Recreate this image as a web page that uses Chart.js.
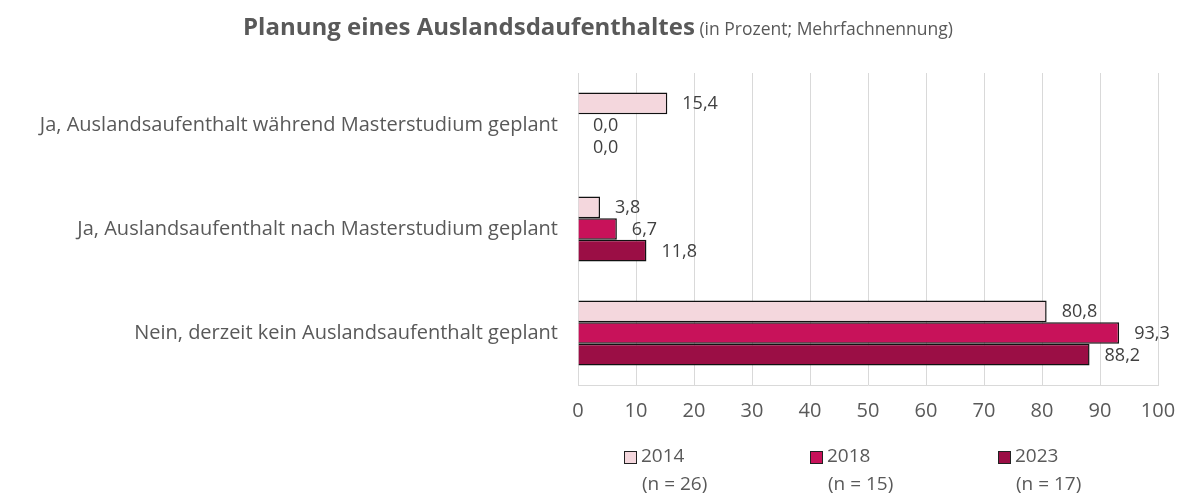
<!DOCTYPE html>
<html>
<head>
<meta charset="utf-8">
<script src="https://cdn.jsdelivr.net/npm/chart.js@4"></script>
<style>
  html, body { margin: 0; padding: 0; background: #fff; }
  #wrap { width: 1181px; height: 498px; position: relative; }
</style>
</head>
<body>
<div id="wrap"><canvas id="myChart" width="1181" height="498"></canvas></div>
<script>
// data
var categories = [
    'Ja, Auslandsaufenthalt während Masterstudium geplant',
    'Ja, Auslandsaufenthalt nach Masterstudium geplant',
    'Nein, derzeit kein Auslandsaufenthalt geplant'
];
var years = ['2014', '2018', '2023'];
var sampleSizes = ['(n = 26)', '(n = 15)', '(n = 17)'];
var values2014 = [15.4, 3.8, 80.8];
var values2018 = [0.0, 6.7, 93.3];
var values2023 = [0.0, 11.8, 88.2];
var xTicks = [0, 10, 20, 30, 40, 50, 60, 70, 80, 90, 100];

var colors = ['#F4D7DD', '#C8125A', '#9B0E45'];
var FONT = '"Open Sans", sans-serif';

// title + bar values + two-line legend drawn by hand
var extras = {
    id: 'extras',
    afterDatasetsDraw: function (chart) {
        var ctx = chart.ctx;
        ctx.save();
        // value labels
        ctx.fillStyle = '#404040';
        ctx.font = '18px ' + FONT;
        ctx.textAlign = 'left';
        ctx.textBaseline = 'middle';
        chart.data.datasets.forEach(function (ds, i) {
            var meta = chart.getDatasetMeta(i);
            meta.data.forEach(function (bar, j) {
                var txt = ds.data[j].toFixed(1).replace('.', ',');
                ctx.fillText(txt, bar.x + 15, bar.y + 1);
            });
        });

        // title
        var t1 = 'Planung eines Auslandsdaufenthaltes';
        var t2 = ' (in Prozent; Mehrfachnennung)';
        ctx.font = 'bold 24px ' + FONT;
        var w1 = ctx.measureText(t1).width;
        ctx.font = '17.5px ' + FONT;
        var w2 = ctx.measureText(t2).width;
        var sx = 598 - (w1 + w2) / 2;
        ctx.textBaseline = 'alphabetic';
        ctx.fillStyle = '#595959';
        ctx.font = 'bold 24px ' + FONT;
        ctx.fillText(t1, sx, 35);
        ctx.font = '17.5px ' + FONT;
        ctx.fillText(t2, sx + w1, 35);

        // legend
        var lx = [624, 810, 998];
        ctx.font = '19px ' + FONT;
        ctx.textBaseline = 'middle';
        for (var k = 0; k < years.length; k++) {
            ctx.fillStyle = colors[k];
            ctx.fillRect(lx[k], 451, 13, 13);
            ctx.strokeStyle = '#222';
            ctx.lineWidth = 1;
            ctx.strokeRect(lx[k] + 0.5, 451.5, 12, 12);
            ctx.fillStyle = '#595959';
            ctx.fillText(years[k], lx[k] + 17, 457);
            ctx.fillText(sampleSizes[k], lx[k] + 18, 485);
        }
        ctx.restore();
    }
};

var ctx = document.getElementById('myChart').getContext('2d');
var myChart = new Chart(ctx, {
    type: 'bar',
    data: {
        labels: categories,
        datasets: [{
            label: years[0],
            data: values2014,
            backgroundColor: colors[0],
            borderColor: '#111',
            borderWidth: 1.5
        }, {
            label: years[1],
            data: values2018,
            backgroundColor: colors[1],
            borderColor: '#111',
            borderWidth: 1.5
        }, {
            label: years[2],
            data: values2023,
            backgroundColor: colors[2],
            borderColor: '#111',
            borderWidth: 1.5
        }]
    },
    options: {
        indexAxis: 'y',
        responsive: false,
        animation: false,
        events: [],
        categoryPercentage: 0.625,
        barPercentage: 1.0,
        layout: { padding: { top: 73, right: 23, left: 0, bottom: 0 } },
        plugins: {
            legend: { display: false },
            title: { display: false },
            tooltip: { enabled: false }
        },
        scales: {
            x: {
                min: 0,
                max: 100,
                afterBuildTicks: function (scale) {
                    scale.ticks = xTicks.map(function (v) { return { value: v }; });
                },
                afterFit: function (scale) {
                    scale.height = 113;
                    scale.paddingRight = 0;
                    scale.paddingLeft = 0;
                },
                grid: { color: '#D9D9D9', lineWidth: 1, drawTicks: false },
                border: { display: true, color: '#D9D9D9' },
                ticks: { color: '#595959', font: { family: FONT, size: 20 }, padding: 14 }
            },
            y: {
                afterFit: function (scale) { scale.width = 578; },
                grid: { display: false, drawTicks: false },
                border: { display: true, color: '#D9D9D9' },
                ticks: { color: '#595959', font: { family: FONT, size: 20 }, padding: 20 }
            }
        }
    },
    plugins: [extras]
});
</script>
</body>
</html>
